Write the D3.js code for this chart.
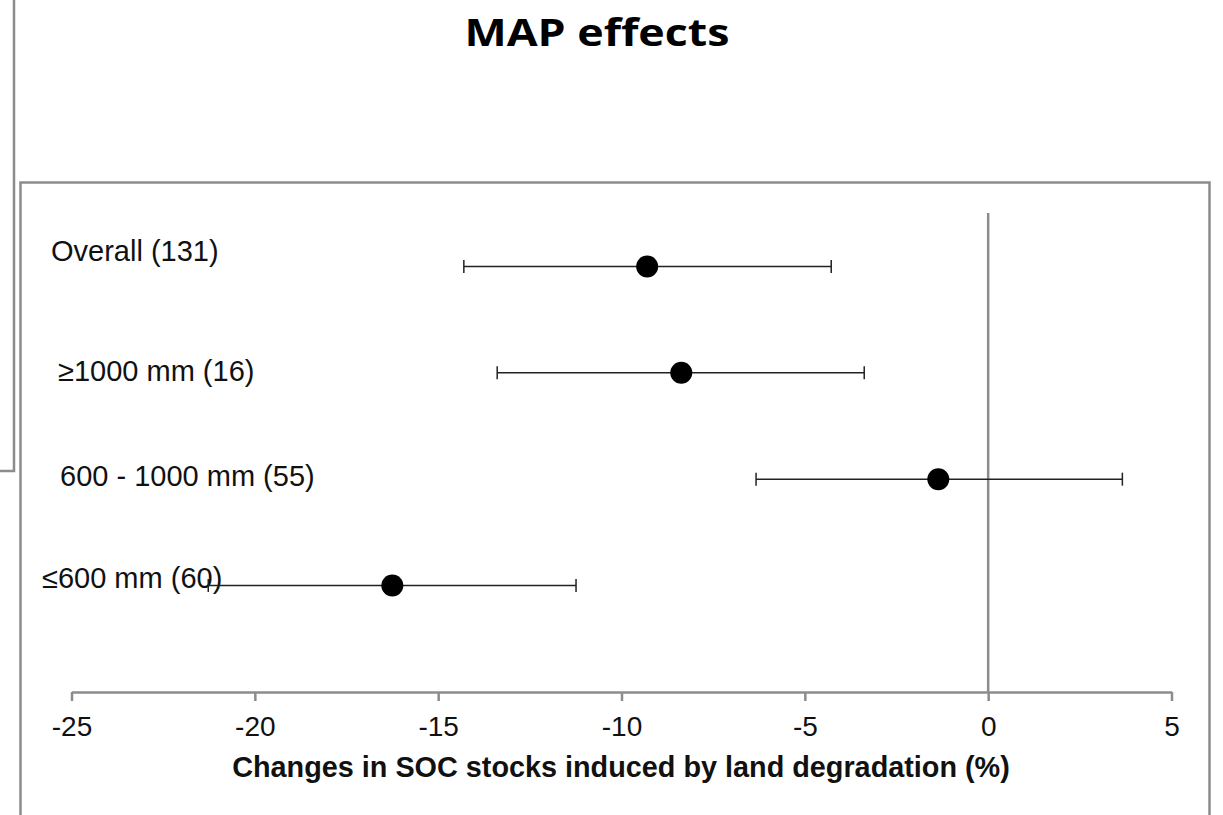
<!DOCTYPE html>
<html><head><meta charset="utf-8">
<script src="https://cdn.jsdelivr.net/npm/d3@7"></script>
<style>html,body{margin:0;padding:0;background:#fff;overflow:hidden}</style>
</head><body><svg id="c" width="1223" height="815"></svg>
<script>
const categories = ["Overall (131)", "\u22651000 mm (16)", "600 - 1000 mm (55)", "\u2264600 mm (60)"];
const means = [-9.3, -8.37, -1.36, -16.25];
const lowers = [-14.3, -13.39, -6.33, -21.27];
const uppers = [-4.28, -3.38, 3.66, -11.24];
const xTicks = [-25, -20, -15, -10, -5, 0, 5];
const titleText = "MAP effects";
const xTitle = "Changes in SOC stocks induced by land degradation (%)";

// layout (not data)
const labelX = [51, 58, 60, 42];
const labelDy = [-6, 8, 7, 2];

const svg = d3.select("#c");
const grey = "#8c8c8c";

// outer frame fragments
svg.append("path").attr("d", "M14,0 V471 H0").attr("fill", "none").attr("stroke", grey).attr("stroke-width", 2.5);
// inner chart box
svg.append("rect").attr("x", 20.5).attr("y", 182.5).attr("width", 1189).attr("height", 700)
  .attr("fill", "none").attr("stroke", grey).attr("stroke-width", 2.5);

svg.append("text").attr("x", 597).attr("y", 46).attr("text-anchor", "middle")
  .attr("font-family", "'Open Sans', sans-serif").attr("font-weight", 700).attr("font-size", 38)
  .attr("textLength", 265).attr("lengthAdjust", "spacingAndGlyphs")
  .text(titleText);

const x = d3.scaleLinear().domain([-25, 5]).range([71.5, 1171.5]);
const y = d3.scalePoint().domain(categories).range([266.5, 585.5]);
const axisY = 692;
const topY = 213;

// x axis
const ax = svg.append("g").attr("transform", `translate(0,${axisY})`)
  .call(d3.axisBottom(x).tickValues(xTicks).tickSize(9).tickSizeOuter(0).tickFormat(d => d < 0 ? "-" + Math.abs(d) : d));
ax.select(".domain").attr("stroke", grey).attr("stroke-width", 2.5);
ax.selectAll(".tick line").attr("stroke", grey).attr("stroke-width", 2.5);
ax.selectAll(".tick text").attr("font-family", "'Liberation Sans', Arial, sans-serif").attr("font-size", 28)
  .attr("fill", "#111").attr("y", 44).attr("dy", 0);

// zero line
svg.append("line").attr("x1", x(0)).attr("x2", x(0)).attr("y1", topY).attr("y2", axisY)
  .attr("stroke", grey).attr("stroke-width", 2.5);

svg.append("text").attr("x", 621).attr("y", 777).attr("text-anchor", "middle")
  .attr("font-family", "'Liberation Sans', Arial, sans-serif").attr("font-weight", 700).attr("font-size", 28.8)
  .attr("fill", "#111").text(xTitle);

// labels
svg.selectAll("text.lab").data(categories).join("text").attr("class", "lab")
  .attr("x", (d, i) => labelX[i]).attr("y", (d, i) => y(d) + labelDy[i])
  .attr("font-family", "'Liberation Sans', Arial, sans-serif").attr("font-size", 29).attr("fill", "#111")
  .text(d => d);

// error bars
const g = svg.append("g");
categories.forEach((c, i) => {
  const yy = y(c);
  g.append("line").attr("x1", x(lowers[i])).attr("x2", x(uppers[i])).attr("y1", yy).attr("y2", yy)
    .attr("stroke", "#222").attr("stroke-width", 1.5);
  [lowers[i], uppers[i]].forEach(v => {
    g.append("line").attr("x1", x(v)).attr("x2", x(v)).attr("y1", yy - 6.5).attr("y2", yy + 6.5)
      .attr("stroke", "#222").attr("stroke-width", 1.5);
  });
  g.append("circle").attr("cx", x(means[i])).attr("cy", yy).attr("r", 11).attr("fill", "#000");
});
</script></body></html>
